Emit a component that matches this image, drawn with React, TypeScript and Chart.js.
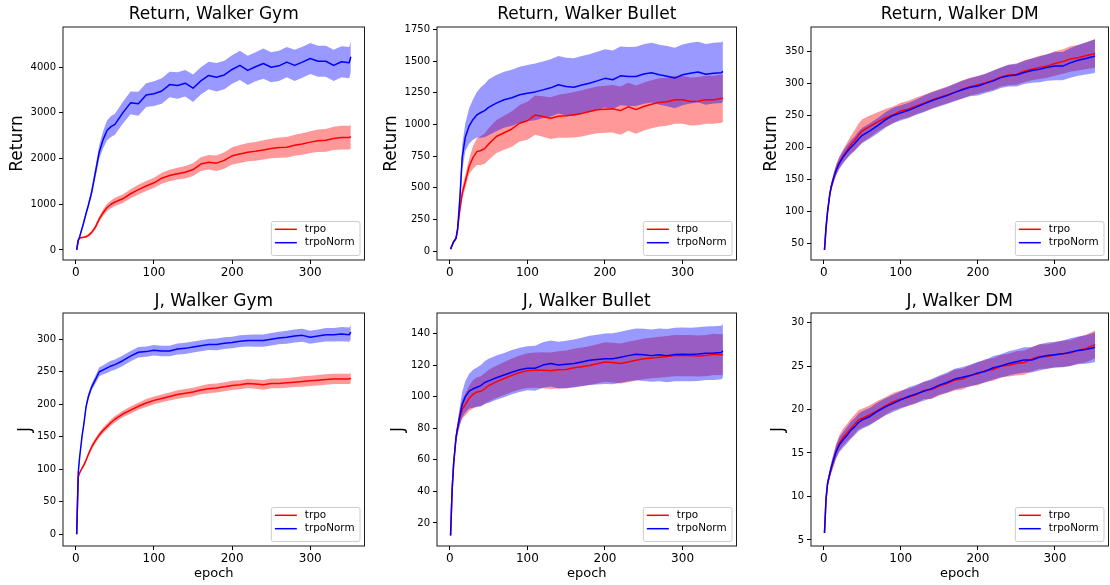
import { useEffect, useRef } from "react";
import { Chart, registerables } from "chart.js";

Chart.register(...registerables);

// Training epochs at which the curves are sampled
const EPOCHS = [1, 3, 5, 8, 10, 13, 16, 20, 25, 30, 35, 40, 45, 50, 60, 70, 80, 90, 100, 110, 120, 130, 140, 150, 160, 170, 180, 190, 200, 210, 220, 230, 240, 250, 260, 270, 280, 290, 300, 310, 320, 330, 340, 350, 352];

// Return, Walker Gym
const GYM_RET_TRPO = [0, 220, 260, 275, 280, 290, 320, 380, 500, 680, 820, 930, 1000, 1050, 1120, 1230, 1320, 1400, 1470, 1570, 1630, 1670, 1700, 1760, 1880, 1920, 1900, 1960, 2060, 2100, 2140, 2160, 2190, 2220, 2240, 2250, 2290, 2320, 2360, 2390, 2400, 2440, 2460, 2460, 2480];
const GYM_RET_TRPO_SD = [0, 10, 15, 20, 20, 25, 30, 35, 50, 60, 70, 80, 85, 90, 95, 100, 105, 110, 110, 120, 125, 130, 135, 140, 150, 160, 170, 180, 190, 195, 200, 205, 210, 215, 220, 225, 230, 235, 240, 245, 250, 255, 260, 260, 260];
const GYM_RET_NORM = [0, 200, 300, 480, 600, 800, 980, 1250, 1700, 2150, 2420, 2620, 2700, 2750, 3000, 3220, 3200, 3390, 3420, 3480, 3620, 3600, 3650, 3540, 3700, 3820, 3780, 3830, 3950, 4040, 3930, 4010, 4080, 4000, 4030, 4110, 4040, 4110, 4190, 4130, 4130, 4040, 4120, 4100, 4230];
const GYM_RET_NORM_SD = [0, 20, 30, 40, 50, 60, 70, 90, 120, 150, 190, 220, 230, 230, 240, 250, 260, 260, 270, 280, 280, 290, 290, 300, 300, 300, 310, 310, 310, 320, 320, 320, 330, 330, 330, 330, 340, 340, 340, 340, 340, 340, 340, 340, 340];

// Return, Walker Bullet
const BUL_RET_TRPO = [15, 45, 74, 100, 170, 330, 456, 550, 670, 740, 786, 795, 810, 845, 905, 935, 965, 1010, 1030, 1075, 1064, 1050, 1066, 1070, 1077, 1088, 1103, 1116, 1120, 1125, 1110, 1140, 1118, 1143, 1160, 1175, 1180, 1196, 1196, 1182, 1185, 1196, 1196, 1205, 1210];
const BUL_RET_TRPO_SD = [3, 8, 10, 15, 25, 40, 50, 50, 60, 90, 105, 115, 120, 125, 130, 135, 140, 145, 150, 155, 160, 165, 170, 175, 180, 182, 184, 185, 186, 188, 190, 190, 190, 190, 190, 190, 190, 190, 190, 190, 190, 190, 190, 190, 190];
const BUL_RET_NORM = [15, 45, 74, 100, 170, 420, 740, 900, 990, 1040, 1077, 1095, 1110, 1135, 1169, 1196, 1212, 1235, 1248, 1258, 1274, 1290, 1314, 1300, 1295, 1312, 1327, 1345, 1365, 1354, 1385, 1380, 1380, 1400, 1410, 1393, 1382, 1367, 1393, 1406, 1415, 1397, 1406, 1410, 1420];
const BUL_RET_NORM_SD = [3, 8, 10, 15, 30, 70, 100, 110, 140, 160, 180, 200, 210, 220, 222, 222, 222, 222, 222, 224, 225, 226, 227, 228, 228, 229, 229, 230, 230, 231, 232, 233, 234, 235, 236, 237, 238, 239, 240, 240, 240, 240, 240, 240, 240];

// Return, Walker DM
const DM_RET_TRPO = [40, 75, 100, 128, 140, 153, 165, 176, 186, 195, 204, 211, 219, 226, 233, 240, 246, 251, 257, 260, 265, 269, 274, 278, 282, 286, 291, 295, 298, 301, 305, 310, 313, 314, 319, 322, 325, 327, 331, 334, 338, 340, 343, 346, 347];
const DM_RET_TRPO_SD = [1, 3, 4, 5, 6, 7, 8, 9, 10, 12, 14, 16, 18, 18, 17, 15, 14, 13, 13, 13, 13, 13, 13, 13, 13, 13, 14, 14, 14, 14, 15, 15, 16, 16, 17, 17, 18, 18, 19, 19, 20, 20, 21, 22, 22];
const DM_RET_NORM = [40, 75, 100, 128, 140, 153, 164, 175, 185, 193, 200, 206, 213, 219, 226, 234, 243, 250, 254, 258, 263, 268, 273, 277, 281, 286, 290, 294, 296, 300, 304, 309, 312, 313, 317, 320, 322, 325, 327, 327, 332, 336, 339, 342, 343];
const DM_RET_NORM_SD = [1, 3, 4, 5, 6, 7, 8, 9, 10, 10, 11, 11, 12, 12, 12, 12, 12, 12, 12, 12, 12, 13, 13, 13, 13, 14, 14, 14, 15, 15, 16, 16, 17, 18, 18, 19, 20, 21, 22, 22, 23, 24, 25, 26, 26];

// J, Walker Gym
const GYM_J_TRPO = [0, 88, 95, 102, 106, 114, 123, 134, 144, 153, 160, 166, 172, 177, 185, 191, 197, 202, 206, 209, 212, 215, 217, 219, 222, 224, 225, 227, 229, 230, 232, 231, 230, 232, 232, 233, 234, 235, 236, 237, 238, 239, 239, 239, 240];
const GYM_J_TRPO_SD = [0, 1, 2, 2, 3, 3, 3, 4, 4, 4, 4.5, 4.5, 5, 5, 5, 5.5, 5.5, 6, 6, 6, 6, 6.5, 6.5, 6.5, 6.5, 7, 7, 7, 7, 7, 7, 7, 7.5, 7.5, 7.5, 7.5, 7.5, 8, 8, 8, 8, 8, 8, 8, 8];
const GYM_J_NORM = [0, 95, 121, 152, 168, 196, 212, 226, 238, 250, 253, 256, 259, 261, 267, 274, 280, 281, 283, 282, 282, 285, 286, 288, 290, 292, 292, 294, 295, 297, 298, 298, 298, 300, 302, 303, 305, 306, 303, 305, 307, 307, 308, 307, 311];
const GYM_J_NORM_SD = [0, 2, 3, 3, 4, 4, 5, 5, 6, 7, 7, 8, 8, 8, 8, 8, 8, 8, 8, 8, 8, 8.5, 8.5, 8.5, 8.5, 8.5, 9, 9, 9, 9, 9, 9.5, 9.5, 9.5, 9.5, 10, 10, 10, 10, 10, 10.5, 10.5, 11, 11, 11];

// J, Walker Bullet
const BUL_J_TRPO = [12, 41, 58, 74, 80, 87, 92, 95, 99, 101.5, 103, 103.5, 105, 107, 109.4, 111.5, 113.5, 115.3, 116.5, 116.8, 116.8, 116.4, 117, 117.2, 118.3, 119, 119.7, 120.8, 122, 121.6, 121, 122, 123, 124, 124.5, 125, 125.5, 126, 126, 126, 125.7, 126, 126.8, 126.5, 126.8];
const BUL_J_TRPO_SD = [0.5, 1.5, 2, 3, 3.5, 5, 6, 7, 8, 9, 9.3, 9.5, 9.8, 10, 10.2, 10.4, 10.6, 10.8, 11, 11.2, 11.4, 11.6, 11.8, 12, 12.1, 12.2, 12.3, 12.4, 12.5, 12.6, 12.7, 12.8, 12.8, 12.9, 12.9, 13, 13, 13, 13, 13, 13, 13, 13, 13, 13];
const BUL_J_NORM = [12, 41, 58, 74, 80, 88, 95, 100, 103.5, 105, 106, 107, 109, 110, 112, 113.7, 115.5, 117, 118, 118, 120, 121, 120, 120.5, 121, 122, 123, 123.5, 124, 124, 125, 126, 126.8, 126.5, 126, 126.5, 126, 126.7, 126.8, 126.7, 127, 127.5, 127.6, 128, 129];
const BUL_J_NORM_SD = [0.5, 1.5, 2, 3, 4, 6, 8, 10, 11, 12, 12.5, 13, 13.5, 14, 14, 14, 14, 14, 14, 14.2, 14.4, 14.6, 14.8, 15, 15.2, 15.4, 15.6, 15.8, 16, 16.1, 16.2, 16.3, 16.4, 16.5, 16.6, 16.7, 16.8, 16.9, 17, 17, 17, 17, 17, 17, 17];

// J, Walker DM
const DM_J_TRPO = [5.8, 9.7, 11.5, 12.6, 13.3, 14.2, 15.2, 16.1, 16.8, 17.3, 17.8, 18.3, 18.8, 19.0, 19.4, 19.9, 20.4, 20.9, 21.2, 21.4, 21.7, 22.2, 22.3, 22.7, 23.0, 23.4, 23.5, 23.9, 24.1, 24.5, 24.6, 25.0, 25.1, 25.3, 25.4, 25.8, 26.1, 26.1, 26.3, 26.4, 26.5, 26.8, 27.0, 27.4, 27.5];
const DM_J_TRPO_SD = [0.1, 0.3, 0.4, 0.5, 0.6, 0.7, 0.8, 0.9, 1.0, 1.0, 1.1, 1.1, 1.1, 1.1, 1.1, 1.1, 1.0, 1.0, 1.0, 1.0, 1.0, 1.0, 1.1, 1.1, 1.1, 1.2, 1.2, 1.2, 1.3, 1.3, 1.3, 1.3, 1.3, 1.4, 1.4, 1.4, 1.4, 1.4, 1.4, 1.5, 1.5, 1.5, 1.6, 1.6, 1.6];
const DM_J_NORM = [5.8, 9.7, 11.5, 12.7, 13.4, 14.3, 15.1, 15.9, 16.5, 17.0, 17.6, 18.0, 18.5, 18.8, 19.2, 19.8, 20.3, 20.7, 21.1, 21.5, 21.8, 22.1, 22.4, 22.8, 23.1, 23.5, 23.7, 23.9, 24.2, 24.4, 24.8, 25.0, 25.3, 25.5, 25.7, 25.7, 26.0, 26.2, 26.3, 26.4, 26.6, 26.8, 26.9, 27.1, 27.2];
const DM_J_NORM_SD = [0.1, 0.3, 0.4, 0.5, 0.6, 0.7, 0.8, 0.85, 0.9, 0.95, 1.0, 1.0, 1.0, 1.0, 1.0, 1.0, 1.0, 1.0, 1.0, 1.05, 1.05, 1.1, 1.1, 1.1, 1.15, 1.2, 1.2, 1.25, 1.3, 1.3, 1.35, 1.35, 1.4, 1.4, 1.45, 1.45, 1.5, 1.5, 1.5, 1.55, 1.6, 1.6, 1.65, 1.7, 1.7];

// Axis tick values
const X_TICKS = [0, 100, 200, 300];
const GYM_RET_TICKS = [0, 1000, 2000, 3000, 4000];
const BUL_RET_TICKS = [0, 250, 500, 750, 1000, 1250, 1500, 1750];
const DM_RET_TICKS = [50, 100, 150, 200, 250, 300, 350];
const GYM_J_TICKS = [0, 50, 100, 150, 200, 250, 300];
const BUL_J_TICKS = [20, 40, 60, 80, 100, 120, 140];
const DM_J_TICKS = [5, 10, 15, 20, 25, 30];

const SERIES_NAMES = ["trpo", "trpoNorm"];
const X_RANGE = [-16.5, 369.5];

const FONT = '"DejaVu Sans", "Liberation Sans", sans-serif';
const RED = "#ff0000";
const BLUE = "#0000ff";
const RED_BAND = "rgba(255, 0, 0, 0.4)";
const BLUE_BAND = "rgba(0, 0, 255, 0.4)";

// Grid cell geometry of the 2 x 3 subplot layout (page pixels)
const COLS = [
  { left: 0, width: 370, areaLeft: 63, areaRight: 364.5, yTitleX: [17.5, 25.7] },
  { left: 370, width: 370, areaLeft: 437, areaRight: 736.5, yTitleX: [392, 399] },
  { left: 740, width: 370, areaLeft: 811, areaRight: 1108.5, yTitleX: [772, 779] },
];
const ROWS = [
  { top: 0, height: 290, areaTop: 27, areaBottom: 260, titleY: 15, xTitleY: 0 },
  { top: 290, height: 295, areaTop: 313, areaBottom: 546, titleY: 301.7, xTitleY: 573.3 },
];

interface Panel {
  title: string;
  yLabel: string;
  row: number;
  col: number;
  trpo: number[];
  trpoSd: number[];
  norm: number[];
  normSd: number[];
  yMin: number;
  yMax: number;
  yTicks: number[];
}

const PANELS: Panel[] = [
  { title: "Return, Walker Gym", yLabel: "Return", row: 0, col: 0, trpo: GYM_RET_TRPO, trpoSd: GYM_RET_TRPO_SD, norm: GYM_RET_NORM, normSd: GYM_RET_NORM_SD, yMin: -220, yMax: 4880, yTicks: GYM_RET_TICKS },
  { title: "Return, Walker Bullet", yLabel: "Return", row: 0, col: 1, trpo: BUL_RET_TRPO, trpoSd: BUL_RET_TRPO_SD, norm: BUL_RET_NORM, normSd: BUL_RET_NORM_SD, yMin: -71, yMax: 1771, yTicks: BUL_RET_TICKS },
  { title: "Return, Walker DM", yLabel: "Return", row: 0, col: 2, trpo: DM_RET_TRPO, trpoSd: DM_RET_TRPO_SD, norm: DM_RET_NORM, normSd: DM_RET_NORM_SD, yMin: 24.5, yMax: 388, yTicks: DM_RET_TICKS },
  { title: "J, Walker Gym", yLabel: "J", row: 1, col: 0, trpo: GYM_J_TRPO, trpoSd: GYM_J_TRPO_SD, norm: GYM_J_NORM, normSd: GYM_J_NORM_SD, yMin: -18, yMax: 340.4, yTicks: GYM_J_TICKS },
  { title: "J, Walker Bullet", yLabel: "J", row: 1, col: 1, trpo: BUL_J_TRPO, trpoSd: BUL_J_TRPO_SD, norm: BUL_J_NORM, normSd: BUL_J_NORM_SD, yMin: 5.4, yMax: 153, yTicks: BUL_J_TICKS },
  { title: "J, Walker DM", yLabel: "J", row: 1, col: 2, trpo: DM_J_TRPO, trpoSd: DM_J_TRPO_SD, norm: DM_J_NORM, normSd: DM_J_NORM_SD, yMin: 4.3, yMax: 31.1, yTicks: DM_J_TICKS },
];

// Box around the plotting area (all four spines)
const framePlugin = {
  id: "frame",
  afterDatasetsDraw(chart: any) {
    const { ctx, chartArea: a } = chart;
    ctx.save();
    ctx.strokeStyle = "#1a1a1a";
    ctx.lineWidth = 1;
    ctx.strokeRect(a.left, a.top, a.right - a.left, a.bottom - a.top);
    ctx.restore();
  },
};

// Legend box in the lower right corner of the plotting area
const cornerLegendPlugin = {
  id: "cornerLegend",
  afterDraw(chart: any) {
    const { ctx, chartArea: a } = chart;
    const items = chart.data.datasets.slice(0, 2);
    ctx.save();
    ctx.font = `10.4px ${FONT}`;
    const textW = Math.max(...items.map((d: any) => ctx.measureText(d.label).width));
    const boxW = 4 + 22 + 8 + textW + 5;
    const boxH = 34;
    const bx = a.right - 5 - boxW;
    const by = a.bottom - 5 - boxH;
    ctx.beginPath();
    ctx.roundRect(bx + 0.5, by + 0.5, boxW, boxH, 2);
    ctx.fillStyle = "rgba(255,255,255,0.8)";
    ctx.fill();
    ctx.strokeStyle = "#cccccc";
    ctx.lineWidth = 1;
    ctx.stroke();
    items.forEach((d: any, i: number) => {
      const y = by + 8.3 + i * 13.4;
      ctx.beginPath();
      ctx.moveTo(bx + 4, y);
      ctx.lineTo(bx + 26, y);
      ctx.strokeStyle = d.borderColor;
      ctx.lineWidth = 1.5;
      ctx.stroke();
      ctx.fillStyle = "#000";
      ctx.textBaseline = "middle";
      ctx.textAlign = "left";
      ctx.fillText(d.label, bx + 34, y);
    });
    ctx.restore();
  },
};

function PanelChart({ panel }: { panel: Panel }) {
  const ref = useRef<HTMLCanvasElement>(null);
  const col = COLS[panel.col];
  const row = ROWS[panel.row];

  useEffect(() => {
    if (!ref.current) return;
    const areaT = row.areaTop - row.top;
    const areaB = row.areaBottom - row.top;
    const areaL = col.areaLeft - col.left;
    const areaR = col.areaRight - col.left;
    const titleLH = 17 * 1.2;
    const titleC = row.titleY - row.top;
    const yTitleLH = 17 * 1.2;
    const yTitleC = col.yTitleX[panel.row] - col.left;
    const xTitleLH = 13 * 1.2;
    const showEpoch = panel.row === 1;

    const pts = (mean: number[]) => EPOCHS.map((x, i) => ({ x, y: mean[i] }));
    const edge = (mean: number[], sd: number[], s: number) =>
      EPOCHS.map((x, i) => ({ x, y: mean[i] + s * sd[i] }));
    const hidden = { borderColor: "rgba(0,0,0,0)", borderWidth: 0, pointRadius: 0 };

    const chart = new Chart(ref.current, {
      type: "line",
      data: {
        datasets: [
          { label: SERIES_NAMES[0], data: pts(panel.trpo), borderColor: RED, borderWidth: 1.5, pointRadius: 0, fill: false, order: 1 },
          { label: SERIES_NAMES[1], data: pts(panel.norm), borderColor: BLUE, borderWidth: 1.5, pointRadius: 0, fill: false, order: 0 },
          { label: "trpo+", data: edge(panel.trpo, panel.trpoSd, 1), ...hidden, fill: "+1", backgroundColor: RED_BAND, order: 3 },
          { label: "trpo-", data: edge(panel.trpo, panel.trpoSd, -1), ...hidden, fill: false, order: 3 },
          { label: "trpoNorm+", data: edge(panel.norm, panel.normSd, 1), ...hidden, fill: "+1", backgroundColor: BLUE_BAND, order: 2 },
          { label: "trpoNorm-", data: edge(panel.norm, panel.normSd, -1), ...hidden, fill: false, order: 2 },
        ],
      } as any,
      options: {
        animation: false,
        responsive: false,
        maintainAspectRatio: false,
        events: [],
        elements: { line: { tension: 0, borderJoinStyle: "round" } },
        layout: { padding: { left: 0, top: 0, bottom: 0, right: col.width - areaR } },
        plugins: {
          legend: { display: false },
          tooltip: { enabled: false },
          title: {
            display: true,
            text: panel.title,
            fullSize: false,
            color: "#000",
            font: { family: FONT, size: 17, weight: "normal" },
            padding: { top: titleC - titleLH / 2, bottom: areaT - titleC - titleLH / 2 },
          },
        },
        scales: {
          x: {
            type: "linear",
            min: X_RANGE[0],
            max: X_RANGE[1],
            afterBuildTicks: (s: any) => {
              s.ticks = X_TICKS.map((value) => ({ value }));
            },
            afterFit: (s: any) => {
              s.height = row.height - areaB;
            },
            ticks: {
              maxRotation: 0,
              autoSkip: false,
              padding: 2,
              color: "#000",
              font: { family: FONT, size: 12 },
              callback: (v: any) => String(v),
            },
            grid: { drawOnChartArea: false, drawTicks: true, tickLength: 4, color: "#000" },
            border: { display: false },
            title: {
              display: showEpoch,
              text: "epoch",
              color: "#000",
              font: { family: FONT, size: 13 },
              padding: { top: 0, bottom: showEpoch ? row.height - (row.xTitleY - row.top) - xTitleLH / 2 : 0 },
            },
          },
          y: {
            type: "linear",
            min: panel.yMin,
            max: panel.yMax,
            afterBuildTicks: (s: any) => {
              s.ticks = panel.yTicks.map((value) => ({ value }));
            },
            afterFit: (s: any) => {
              s.width = areaL;
            },
            ticks: {
              autoSkip: false,
              padding: 3,
              color: "#000",
              font: { family: FONT, size: 10 },
              callback: (v: any) => String(v),
            },
            grid: { drawOnChartArea: false, drawTicks: true, tickLength: 4, color: "#000" },
            border: { display: false },
            title: {
              display: true,
              text: panel.yLabel,
              color: "#000",
              font: { family: FONT, size: 17 },
              padding: { top: yTitleC - yTitleLH / 2, bottom: 0 },
            },
          },
        },
      } as any,
      plugins: [framePlugin, cornerLegendPlugin],
    });
    return () => chart.destroy();
  }, [panel]);

  return (
    <canvas
      ref={ref}
      width={col.width}
      height={row.height}
      style={{ position: "absolute", left: col.left, top: row.top, width: col.width, height: row.height }}
    />
  );
}

export default function App() {
  return (
    <div style={{ position: "absolute", left: 0, top: 0, width: 1110, height: 585, background: "#fff" }}>
      {PANELS.map((p) => (
        <PanelChart key={p.title} panel={p} />
      ))}
    </div>
  );
}
